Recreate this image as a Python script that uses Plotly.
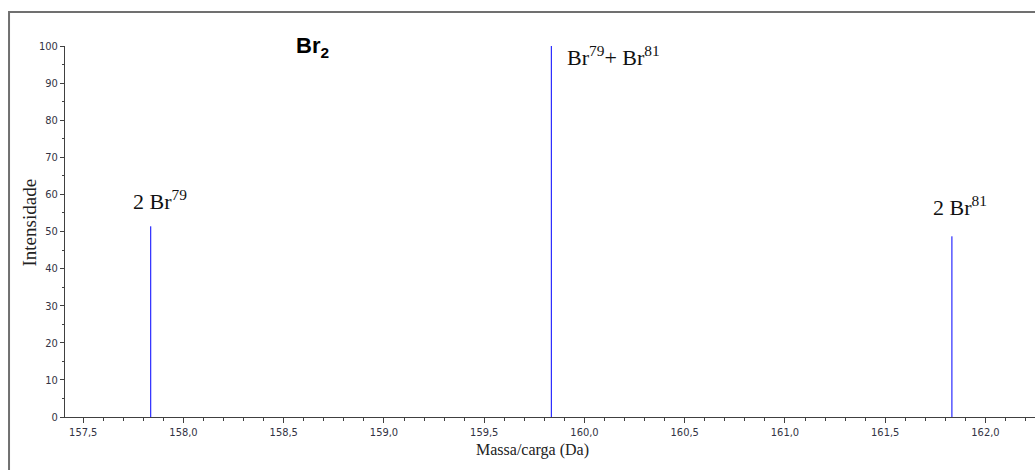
import plotly.graph_objects as go

# Data
peak_mz = [157.8366, 159.8346, 161.8326]
peak_intensity = [51.4, 100.0, 48.7]
peak_labels = ["2 Br<sup>79</sup>", "Br<sup>79</sup>+ Br<sup>81</sup>", "2 Br<sup>81</sup>"]
x_ticks = [157.5, 158.0, 158.5, 159.0, 159.5, 160.0, 160.5, 161.0, 161.5, 162.0]
y_ticks = [0, 10, 20, 30, 40, 50, 60, 70, 80, 90, 100]

xs, ys = [], []
for m, h in zip(peak_mz, peak_intensity):
    xs += [m, m, None]
    ys += [0, h, None]

fig = go.Figure()
fig.add_trace(go.Scatter(x=xs, y=ys, mode="lines",
                         line=dict(color="#0000ff", width=1),
                         hoverinfo="skip", showlegend=False))

tick_font = dict(family="DejaVu Sans Condensed, Liberation Sans, sans-serif", size=11, color="#333344")
serif = "Liberation Serif, Times New Roman, serif"

fig.update_layout(
    width=1035, height=470,
    margin=dict(l=65, r=0, t=46, b=53),
    paper_bgcolor="white", plot_bgcolor="white",
    separators=",.",
    showlegend=False,
    xaxis=dict(range=[157.409, 162.247], tickvals=x_ticks, tickformat=".1f",
               showgrid=False, zeroline=False, showline=True, linecolor="#404040", linewidth=1,
               ticks="outside", ticklen=5, tickcolor="#404040", tickfont=tick_font,
               minor=dict(dtick=0.1, tick0=157.5, ticks="outside", ticklen=3, tickcolor="#404040")),
    yaxis=dict(range=[0, 100], tickvals=y_ticks,
               showgrid=False, zeroline=False, showline=True, linecolor="#404040", linewidth=1,
               ticks="outside", ticklen=4, tickcolor="#404040", tickfont=tick_font,
               minor=dict(dtick=5, ticks="outside", ticklen=2, tickcolor="#404040")),
)

# Axis titles
fig.add_annotation(text="Intensidade", xref="paper", yref="paper",
                   x=(28.5 - 65) / 970, y=1 - (223 - 46) / 371, xanchor="center", yanchor="middle",
                   textangle=-90, showarrow=False,
                   font=dict(family=serif, size=19, color="#222"))
fig.add_annotation(text="Massa/carga (Da)", xref="paper", yref="paper",
                   x=(532.7 - 65) / 970, y=1 - (449.5 - 46) / 371, xanchor="center", yanchor="middle",
                   showarrow=False,
                   font=dict(family=serif, size=16, color="#222"))

# Outer frame
fig.add_shape(type="rect", xref="paper", yref="paper",
              x0=-0.0577, x1=1.2, y0=-0.3, y1=1.0916,
              line=dict(color="#707070", width=2), fillcolor="rgba(0,0,0,0)", layer="below")

# Title
fig.add_annotation(text="<b>Br<sub>2</sub></b>", xref="paper", yref="paper",
                   x=(312 - 65) / 970, y=1 + (46 - 47) / 371, xanchor="center", yanchor="middle",
                   showarrow=False, font=dict(family="Liberation Sans, Arial, sans-serif", size=22, color="black"))

# Peak labels
label_pos = [(130.5, 200), (564.5, 56), (931, 206)]
for (px, py), lab in zip(label_pos, peak_labels):
    fig.add_annotation(text=lab, xref="paper", yref="paper",
                       x=(px - 65) / 970, y=1 - (py - 46) / 371,
                       xanchor="left", yanchor="middle", showarrow=False,
                       font=dict(family=serif, size=22, color="#111"))

fig.write_html("out.html")
